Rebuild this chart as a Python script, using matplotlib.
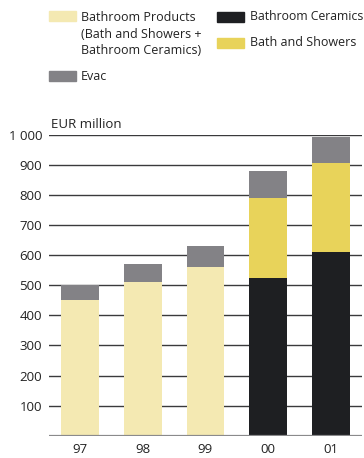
import matplotlib.pyplot as plt
from matplotlib.patches import Rectangle

plt.rcParams['font.family'] = ['Open Sans', 'DejaVu Sans']

# Sales by segment, EUR million
years = ['97', '98', '99', '00', '01']
bathroom_products = [450, 512, 562, 0, 0]
bathroom_ceramics = [0, 0, 0, 525, 612]
bath_showers = [0, 0, 0, 267, 296]
evac = [50, 60, 70, 87, 87]
yticks = [100, 200, 300, 400, 500, 600, 700, 800, 900, 1000]
ytick_labels = ['100', '200', '300', '400', '500', '600', '700', '800', '900', '1 000']

c_prod = '#F4E9B2'
c_cer = '#1E1F22'
c_bath = '#E8D35A'
c_evac = '#838286'

W, H = 364, 458
fig = plt.figure(figsize=(W / 100, H / 100), dpi=100)
ax = fig.add_axes([49 / W, (H - 435.7) / H, 313 / W, 300.7 / H])

x = range(len(years))
bw = 0.6
ax.bar(x, bathroom_products, bw, color=c_prod, zorder=2)
ax.bar(x, bathroom_ceramics, bw, color=c_cer, zorder=2)
base = [a + b for a, b in zip(bathroom_ceramics, bathroom_products)]
ax.bar(x, bath_showers, bw, bottom=base, color=c_bath, zorder=2)
base = [a + b for a, b in zip(base, bath_showers)]
ax.bar(x, evac, bw, bottom=base, color=c_evac, zorder=2)

for y in yticks:
    ax.axhline(y, color='#3a3a3c', lw=1.0, zorder=1)
ax.axhline(0, color='#8a8a8c', lw=1.6, zorder=3)

ax.set_xlim(-0.494, 4.494)
ax.set_ylim(0, 1000)
ax.set_xticks(list(x))
ax.set_xticklabels(years)
ax.set_yticks(yticks)
ax.set_yticklabels(ytick_labels)
ax.tick_params(length=0, labelsize=9.5, colors='#222222')
ax.tick_params(axis='y', pad=5)
ax.tick_params(axis='x', pad=5)
for s in ax.spines.values():
    s.set_visible(False)

fig.text(51 / W, 1 - 124 / H, 'EUR million', fontsize=9.5, va='center', color='#222222')

# legend drawn by hand in figure pixels
def swatch(px, py, color):
    fig.add_artist(Rectangle((px / W, 1 - (py + 5) / H), 27 / W, 10 / H,
                             transform=fig.transFigure, color=color))

swatch(49, 16, c_prod)
fig.text(81 / W, 1 - 34 / H, 'Bathroom Products\n(Bath and Showers +\nBathroom Ceramics)',
         fontsize=9, va='center', linespacing=1.36, color='#222222')
swatch(49, 76, c_evac)
fig.text(81 / W, 1 - 76 / H, 'Evac', fontsize=9, va='center', color='#222222')
swatch(217, 17, c_cer)
fig.text(250 / W, 1 - 17 / H, 'Bathroom Ceramics', fontsize=8.8, va='center', color='#222222')
swatch(217, 43, c_bath)
fig.text(250 / W, 1 - 43 / H, 'Bath and Showers', fontsize=9, va='center', color='#222222')

fig.savefig('out.png', dpi=100)
